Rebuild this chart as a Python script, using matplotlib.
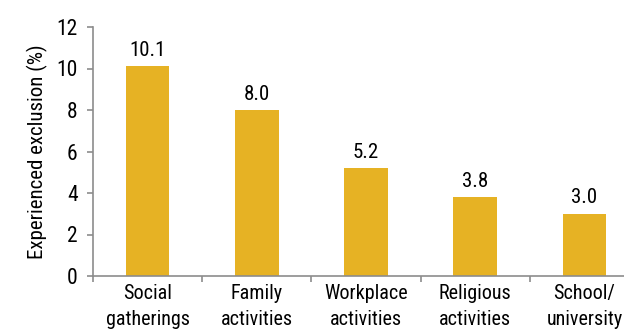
import matplotlib
matplotlib.use('Agg')
import matplotlib.pyplot as plt
import numpy as np

plt.rcParams['font.family'] = ['Roboto Condensed', 'Liberation Sans Narrow', 'DejaVu Sans']

categories = ['Social\ngatherings', 'Family\nactivities', 'Workplace\nactivities',
              'Religious\nactivities', 'School/\nuniversity']
values = [10.1, 8.0, 5.2, 3.8, 3.0]
yticks = [0, 2, 4, 6, 8, 10, 12]

bar_color = '#E6B224'
axis_color = '#8C8C8C'

fig = plt.figure(figsize=(6.24, 3.33), dpi=100)
ax = fig.add_axes([93/624, 57/333, 546/624, 249/333])

x = np.arange(len(values))
bars = ax.bar(x, values, width=0.40, color=bar_color)
for xi, v in zip(x, values):
    ax.text(xi, v + 0.5, '%.1f' % v, ha='center', va='baseline', fontsize=15)

ax.set_xlim(-0.5, len(values) - 0.5)
ax.set_ylim(0, 12)
ax.set_yticks(yticks)
ax.set_yticklabels([str(t) for t in yticks], fontsize=15.5)
ax.set_ylabel('Experienced exclusion (%)', fontsize=15)
ax.yaxis.set_label_coords(-0.083, 0.5)

ax.set_xticks(x)
ax.set_xticklabels(categories, fontsize=14.5, linespacing=1.49)
ax.set_xticks(np.arange(len(values) + 1) - 0.5, minor=True)
ax.tick_params(axis='x', which='major', length=0, pad=5.5)
ax.tick_params(axis='x', which='minor', length=4, direction='out', color=axis_color, width=1.2)
ax.tick_params(axis='y', length=4, direction='out', color=axis_color, width=1.2, pad=7)

for side in ['top', 'right']:
    ax.spines[side].set_visible(False)
for side in ['left', 'bottom']:
    ax.spines[side].set_color(axis_color)
    ax.spines[side].set_linewidth(1.2)

fig.savefig('out.png', dpi=100)
